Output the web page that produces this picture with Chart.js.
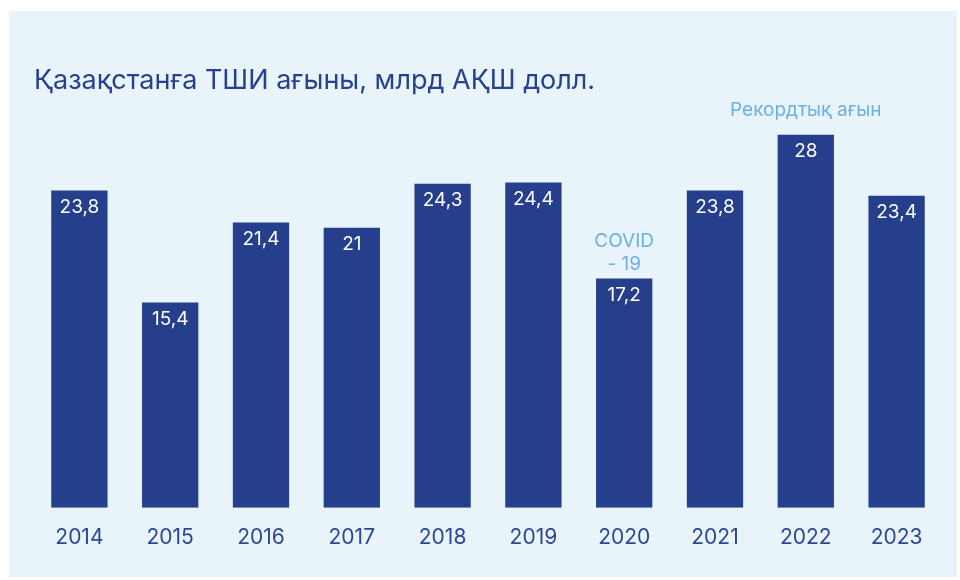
<!DOCTYPE html>
<html>
<head>
<meta charset="utf-8">
<script src="https://cdn.jsdelivr.net/npm/chart.js@4/dist/chart.umd.min.js"></script>
<style>
  html, body { margin: 0; padding: 0; background: #ffffff; }
  #wrap { width: 960px; height: 580px; }
</style>
</head>
<body>
<div id="wrap"><canvas id="chart" width="960" height="580"></canvas></div>
<script>
const years = ['2014', '2015', '2016', '2017', '2018', '2019', '2020', '2021', '2022', '2023'];
const inflows = [23.8, 15.4, 21.4, 21, 24.3, 24.4, 17.2, 23.8, 28, 23.4];
const notes = ['', '', '', '', '', '', 'COVID\n- 19', '', 'Рекордтық ағын', ''];

const theme = {
    page: '#ffffff',
    panel: '#e8f3fa',
    bar: '#253f8c',
    title: '#27408f',
    tick: '#2c4795',
    note: '#6cb0e3',
    value: '#ffffff'
};
const FONT = 'Inter, "Noto Sans", "DejaVu Sans", sans-serif';

// light panel behind the whole chart
const panelPlugin = {
    id: 'panel',
    beforeDraw(chart) {
        const ctx = chart.ctx;
        ctx.save();
        ctx.fillStyle = theme.page;
        ctx.fillRect(0, 0, chart.width, chart.height);
        ctx.fillStyle = theme.panel;
        ctx.fillRect(9, 11, 948, 566);
        ctx.restore();
    }
};

// value inside the bar top, notes above the bar
const labelPlugin = {
    id: 'barLabels',
    afterDatasetsDraw(chart) {
        const ctx = chart.ctx;
        const meta = chart.getDatasetMeta(0);
        ctx.save();
        ctx.textAlign = 'center';
        ctx.textBaseline = 'middle';
        meta.data.forEach((bar, i) => {
            ctx.fillStyle = theme.value;
            ctx.font = '19px ' + FONT;
            ctx.fillText(String(inflows[i]).replace('.', ','), bar.x, bar.y + 17);
            if (notes[i]) {
                const lines = notes[i].split('\n');
                ctx.fillStyle = theme.note;
                ctx.font = '19px ' + FONT;
                lines.forEach((line, k) => {
                    const fromTop = lines.length - k;
                    ctx.fillText(line, bar.x, bar.y - 14 - (fromTop - 1) * 23 - (lines.length === 1 ? 10 : 0));
                });
            }
        });
        ctx.restore();
    }
};

new Chart(document.getElementById('chart'), {
    type: 'bar',
    data: {
        labels: years,
        datasets: [{
            data: inflows,
            backgroundColor: theme.bar,
            borderWidth: 0,
            barPercentage: 0.62,
            categoryPercentage: 1
        }]
    },
    options: {
        responsive: false,
        animation: false,
        layout: { padding: { left: 34, right: 18, top: 0, bottom: 13 } },
        plugins: {
            legend: { display: false },
            tooltip: { enabled: false },
            title: {
                display: true,
                text: 'Қазақстанға ТШИ ағыны, млрд АҚШ долл.',
                align: 'start',
                color: theme.title,
                font: { family: FONT, size: 27, weight: 'normal' },
                padding: { top: 65, bottom: 37 }
            }
        },
        scales: {
            x: {
                grid: { display: false, drawTicks: false },
                border: { display: false },
                ticks: {
                    color: theme.tick,
                    font: { family: FONT, size: 21 },
                    padding: 17
                }
            },
            y: {
                display: false,
                min: 0,
                max: 28
            }
        }
    },
    plugins: [panelPlugin, labelPlugin]
});
</script>
</body>
</html>
